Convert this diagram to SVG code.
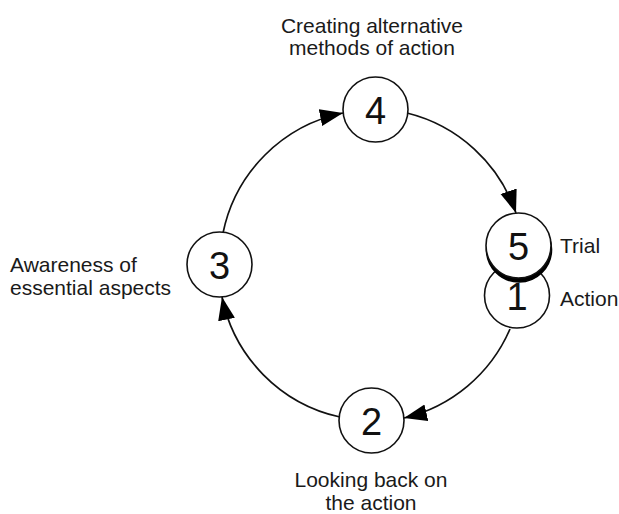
<svg xmlns="http://www.w3.org/2000/svg" width="619" height="514" viewBox="0 0 619 514">
<style>
.node circle{fill:#fff;stroke:#111;stroke-width:1.6}
.num{font-family:"Liberation Sans",Arial,sans-serif;font-size:38px;fill:#111;text-anchor:middle}
.lbl{font-family:"Liberation Sans",Arial,sans-serif;font-size:21px;fill:#1a1a1a}
.mid{text-anchor:middle}
#connectors path{fill:none;stroke:#111;stroke-width:1.7}
</style>
<defs>
<marker id="arr" markerUnits="userSpaceOnUse" markerWidth="24" markerHeight="18" refX="23" refY="8.5" orient="auto">
<path d="M0,0 L23,8.5 L0,17 Z" fill="#000"/>
</marker>
</defs>
<rect width="619" height="514" fill="#fff"/>
<g id="connectors">
<path d="M223,233 A154,154 0 0 1 343,113" marker-end="url(#arr)"/>
<path d="M407,113 A154,154 0 0 1 516,213" marker-end="url(#arr)"/>
<path d="M510,329 A154,154 0 0 1 404,418" marker-end="url(#arr)"/>
<path d="M340,417 A154,154 0 0 1 222,297" marker-end="url(#arr)"/>
</g>
<g id="node1" class="node">
<circle cx="517" cy="295.5" r="32.5"/>
<text class="num" x="517" y="309.5">1</text>
<text class="lbl" x="560" y="306">Action</text>
</g>
<g id="node5" class="node">
<circle cx="519" cy="249.5" r="32.5" style="fill:#000;stroke:#000"/>
<circle cx="518.5" cy="245.5" r="32.5"/>
<text class="num" x="518.5" y="259.5">5</text>
<text class="lbl" x="560" y="253">Trial</text>
</g>
<g id="node4" class="node">
<circle cx="375.5" cy="109.5" r="32.5"/>
<text class="num" x="375.5" y="123.5">4</text>
<text class="lbl mid" x="372" y="33">Creating alternative</text>
<text class="lbl mid" x="372" y="55">methods of action</text>
</g>
<g id="node3" class="node">
<circle cx="219.5" cy="264.5" r="32.5"/>
<text class="num" x="219.5" y="278.5">3</text>
<text class="lbl" x="10" y="272">Awareness of</text>
<text class="lbl" x="10" y="295">essential aspects</text>
</g>
<g id="node2" class="node">
<circle cx="371.5" cy="420.5" r="32.5"/>
<text class="num" x="371.5" y="434.5">2</text>
<text class="lbl mid" x="371" y="487">Looking back on</text>
<text class="lbl mid" x="371" y="510">the action</text>
</g>
</svg>
